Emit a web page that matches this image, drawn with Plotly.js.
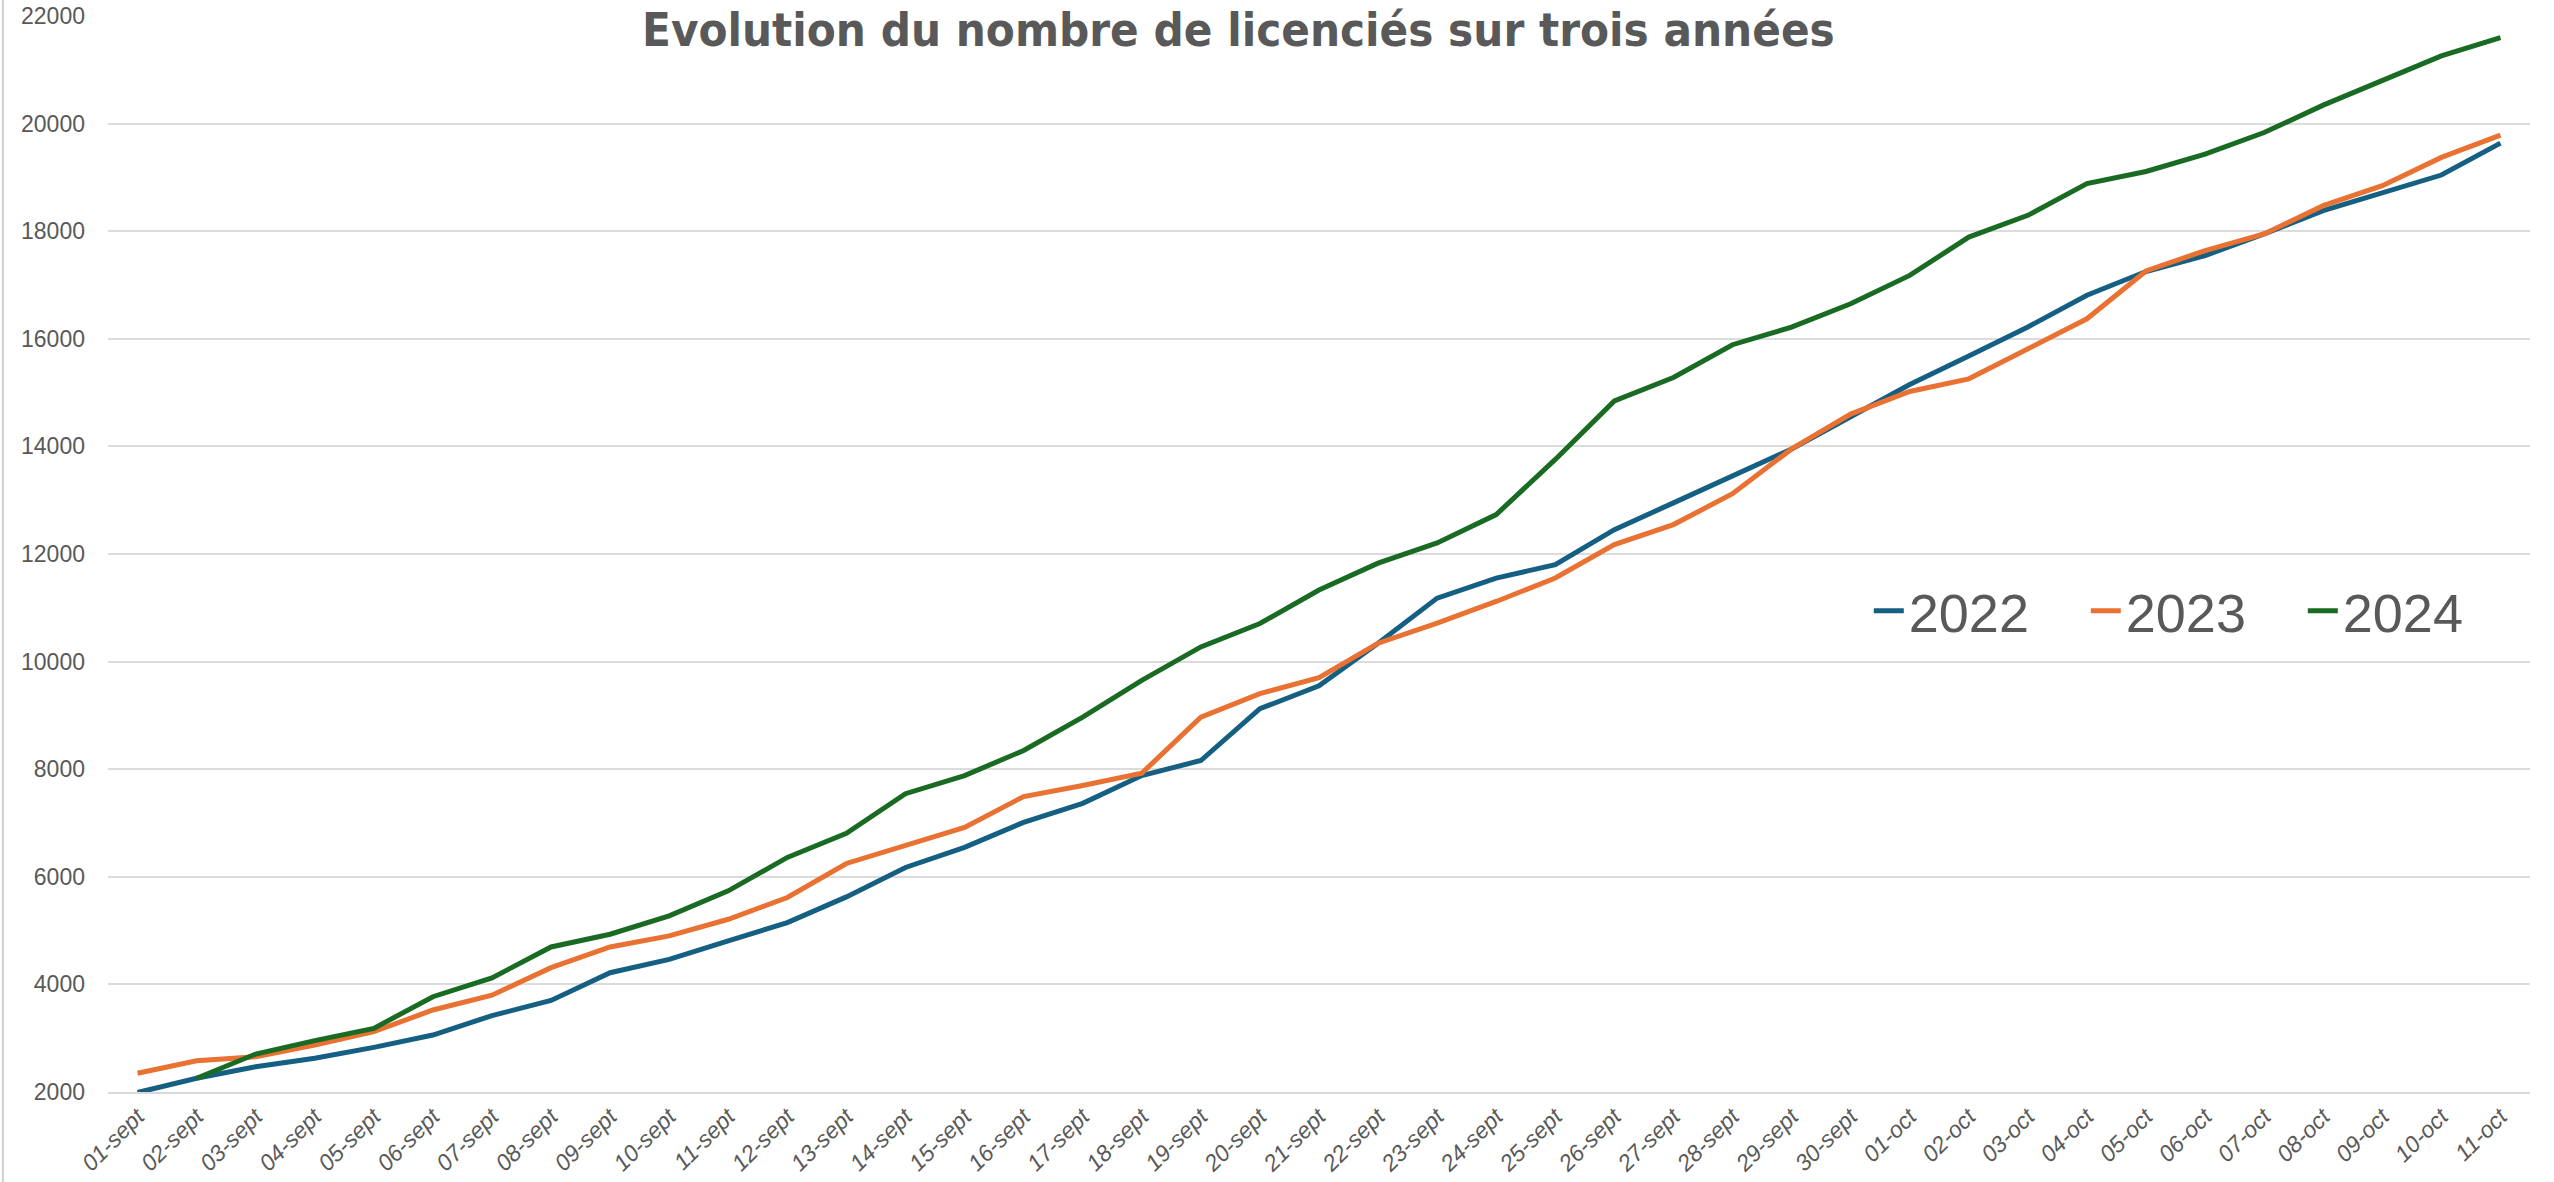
<!DOCTYPE html>
<html>
<head>
<meta charset="utf-8">
<script src="https://cdn.plot.ly/plotly-3.0.1.min.js"></script>
<style>
  html, body { margin: 0; padding: 0; background: #ffffff; }
  #chart { width: 2554px; height: 1182px; }
</style>
</head>
<body>
<div id="chart"></div>
<script>
const categories = [
  "01-sept","02-sept","03-sept","04-sept","05-sept","06-sept","07-sept","08-sept","09-sept","10-sept",
  "11-sept","12-sept","13-sept","14-sept","15-sept","16-sept","17-sept","18-sept","19-sept","20-sept",
  "21-sept","22-sept","23-sept","24-sept","25-sept","26-sept","27-sept","28-sept","29-sept","30-sept",
  "01-oct","02-oct","03-oct","04-oct","05-oct","06-oct","07-oct","08-oct","09-oct","10-oct","11-oct"
];

const values2022 = [
  1990, 2255, 2470, 2626, 2830, 3059, 3420, 3702, 4217, 4466,
  4807, 5149, 5627, 6174, 6547, 7012, 7366, 7882, 8161, 9124,
  9550, 10342, 11180, 11553, 11801, 12453, 12950, 13450, 13950, 14550,
  15150, 15680, 16220, 16810, 17250, 17547, 17949, 18382, 18722, 19044, 19638
];

const values2023 = [
  2348, 2582, 2656, 2873, 3121, 3524, 3800, 4311, 4696, 4901,
  5211, 5615, 6248, 6580, 6919, 7491, 7696, 7925, 8969, 9404,
  9700, 10342, 10714, 11118, 11553, 12174, 12547, 13120, 13953, 14600,
  15020, 15256, 15814, 16372, 17260, 17640, 17949, 18475, 18846, 19372, 19786
];

const values2024 = [
  null, 2255, 2706, 2954, 3183, 3771, 4120, 4696, 4932, 5273,
  5739, 6360, 6807, 7545, 7882, 8348, 8969, 9652, 10273, 10708,
  11330, 11830, 12205, 12733, 13758, 14845, 15280, 15890, 16217, 16651,
  17178, 17891, 18295, 18884, 19110, 19433, 19835, 20343, 20794, 21258, 21598
];

const seriesNames = ["2022", "2023", "2024"];
const seriesColors = ["#156082", "#E97132", "#196B24"];
const yTicks = [2000, 4000, 6000, 8000, 10000, 12000, 14000, 16000, 18000, 20000, 22000];
const chartTitle = "Evolution du nombre de licenciés sur trois années";

const allValues = [values2022, values2023, values2024];
const traces = allValues.map((vals, k) => ({
  type: "scatter",
  mode: "lines",
  x: categories,
  y: vals,
  name: seriesNames[k],
  line: { color: seriesColors[k], width: 5 },
  connectgaps: false,
  hoverinfo: "x+y+name"
}));

const layout = {
  width: 2554,
  height: 1182,
  paper_bgcolor: "#ffffff",
  plot_bgcolor: "#ffffff",
  margin: { l: 108, r: 24, t: 16, b: 90 },
  showlegend: true,
  legend: {
    orientation: "h",
    x: 0.727,
    xanchor: "left",
    y: 0.447,
    yanchor: "middle",
    bgcolor: "rgba(0,0,0,0)",
    font: { family: "Liberation Sans, Arial", size: 54, color: "#595959" },
    entrywidth: 172,
    entrywidthmode: "pixels",
    itemwidth: 30,
    traceorder: "normal"
  },
  xaxis: {
    type: "category",
    categoryorder: "array",
    categoryarray: categories,
    range: [-0.5, categories.length - 0.5],
    tickangle: -45,
    tickfont: { family: "Liberation Sans, Arial", size: 23, color: "#595959", style: "italic" },
    showgrid: false,
    showline: true,
    linecolor: "#d9d9d9",
    linewidth: 2,
    ticks: "",
    zeroline: false,
    fixedrange: true
  },
  yaxis: {
    range: [2000, 22000],
    tickvals: yTicks,
    ticktext: yTicks.map(String),
    tickfont: { family: "Liberation Sans, Arial", size: 23, color: "#595959" },
    showgrid: true,
    gridcolor: "#dcdcdc",
    gridwidth: 2,
    zeroline: false,
    showline: false,
    ticks: "",
    ticklabelstandoff: 22,
    fixedrange: true
  },
  annotations: [{
    xref: "paper",
    yref: "paper",
    x: 0.4666,
    y: 1,
    xanchor: "center",
    yanchor: "top",
    yshift: 16,
    text: "<b>" + chartTitle + "</b>",
    showarrow: false,
    bgcolor: "#ffffff",
    borderpad: 1,
    font: { family: "DejaVu Sans Condensed, DejaVu Sans", size: 47, color: "#595959" }
  }],
  shapes: [{
    type: "line",
    xref: "paper",
    yref: "paper",
    x0: -0.0434, x1: -0.0434,
    y0: -0.09, y1: 1.02,
    line: { color: "#d0d0d0", width: 2 }
  }]
};

Plotly.newPlot("chart", traces, layout, { displayModeBar: false, staticPlot: false });
</script>
</body>
</html>
